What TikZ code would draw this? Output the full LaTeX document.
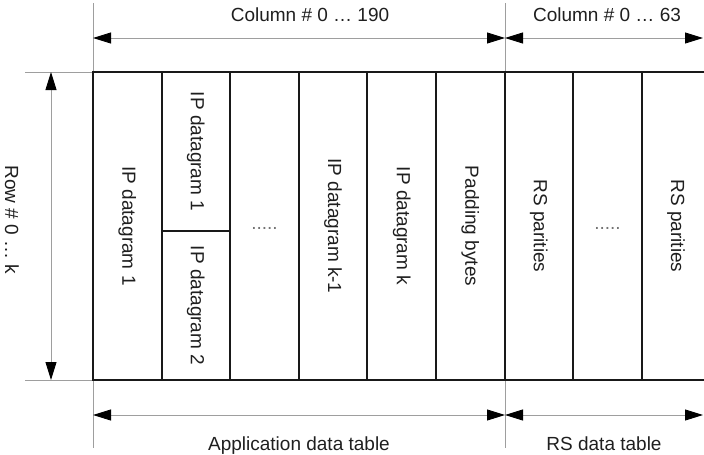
\documentclass[tikz,border=0pt]{standalone}
\usepackage{fontspec}
\setmainfont{Liberation Sans}
\usetikzlibrary{arrows.meta}
\begin{document}
\begin{tikzpicture}[x=1pt,y=-1pt,
  guide/.style={draw=black!38, line width=0.9pt},
  dim/.style={draw=black!38, line width=0.9pt,
    {Triangle[length=18pt,width=11pt,color=black]}-{Triangle[length=18pt,width=11pt,color=black]}},
  cell/.style={draw=black!90, line width=2pt},
  lbl/.style={font=\fontsize{19}{22}\selectfont, text=black!88, inner sep=0pt},
  vlbl/.style={lbl, rotate=-90},
  dots/.style={font=\fontsize{19}{22}\selectfont, text=black!55, inner sep=0pt, anchor=base}]
\useasboundingbox (0,0) rectangle (704,455);
% named points
\coordinate (gT0) at (93,3);
\coordinate (gT1) at (505,3);
\coordinate (TL) at (93,72);
\coordinate (BL) at (93,380);
\coordinate (TM) at (505,72);
\coordinate (BM) at (505,380);
\coordinate (TR) at (704,72);
\coordinate (BR) at (704,380);
\coordinate (gB0) at (93,448);
\coordinate (gB1) at (505,448);
\coordinate (hT) at (25,72);
\coordinate (hB) at (25,380);
\coordinate (a0) at (93,38);
\coordinate (a1) at (505,38);
\coordinate (a2) at (703,38);
\coordinate (b0) at (93,415);
\coordinate (b1) at (505,415);
\coordinate (b2) at (703,415);
\coordinate (v0) at (51,72);
\coordinate (v1) at (51,380);
% guide lines
\draw[guide] (gT0) -- (TL);
\draw[guide] (gT1) -- (TM);
\draw[guide] (BL) -- (gB0);
\draw[guide] (BM) -- (gB1);
\draw[guide] (hT) -- (TL);
\draw[guide] (hB) -- (BL);
% dimension arrows
\draw[dim] (a0) -- (a1);
\draw[dim] (a1) -- (a2);
\draw[dim] (b0) -- (b1);
\draw[dim] (b1) -- (b2);
\draw[dim] (v0) -- (v1);
% table
\draw[cell] (TR) -- (TL) -- (BL) -- (BR);
\foreach \x in {161.6,230.2,298.8,367.4,436,504.6,573.2,641.8}
  \draw[cell] (\x,72) -- (\x,380);
\draw[cell] (161.6,231) -- (230.2,231);
% labels
\node[lbl,anchor=base] (colA) at (310,21) {Column \# 0 … 190};
\node[lbl,anchor=base] (colB) at (607,21) {Column \# 0 … 63};
\node[lbl,anchor=base] (appT) at (299,450) {Application data table};
\node[lbl,anchor=base] (rsT) at (604,450) {RS data table};
\node[vlbl] (row) at (12,220) {Row \# 0 … k};
\node[vlbl] (ip1) at (127.3,226) {IP datagram 1};
\node[vlbl] (ip1b) at (195.9,151.5) {IP datagram 1};
\node[vlbl] (ip2) at (195.9,305.5) {IP datagram 2};
\node[dots] (d1) at (264.5,229) {.....};
\node[vlbl] (ipk1) at (333.1,226) {IP datagram k-1};
\node[vlbl] (ipk) at (401.7,226) {IP datagram k};
\node[vlbl] (pad) at (470.3,226) {Padding bytes};
\node[vlbl] (rs1) at (538.9,226) {RS parities};
\node[dots] (d2) at (607.5,229) {.....};
\node[vlbl] (rs2) at (676.1,226) {RS parities};
\end{tikzpicture}
\end{document}
